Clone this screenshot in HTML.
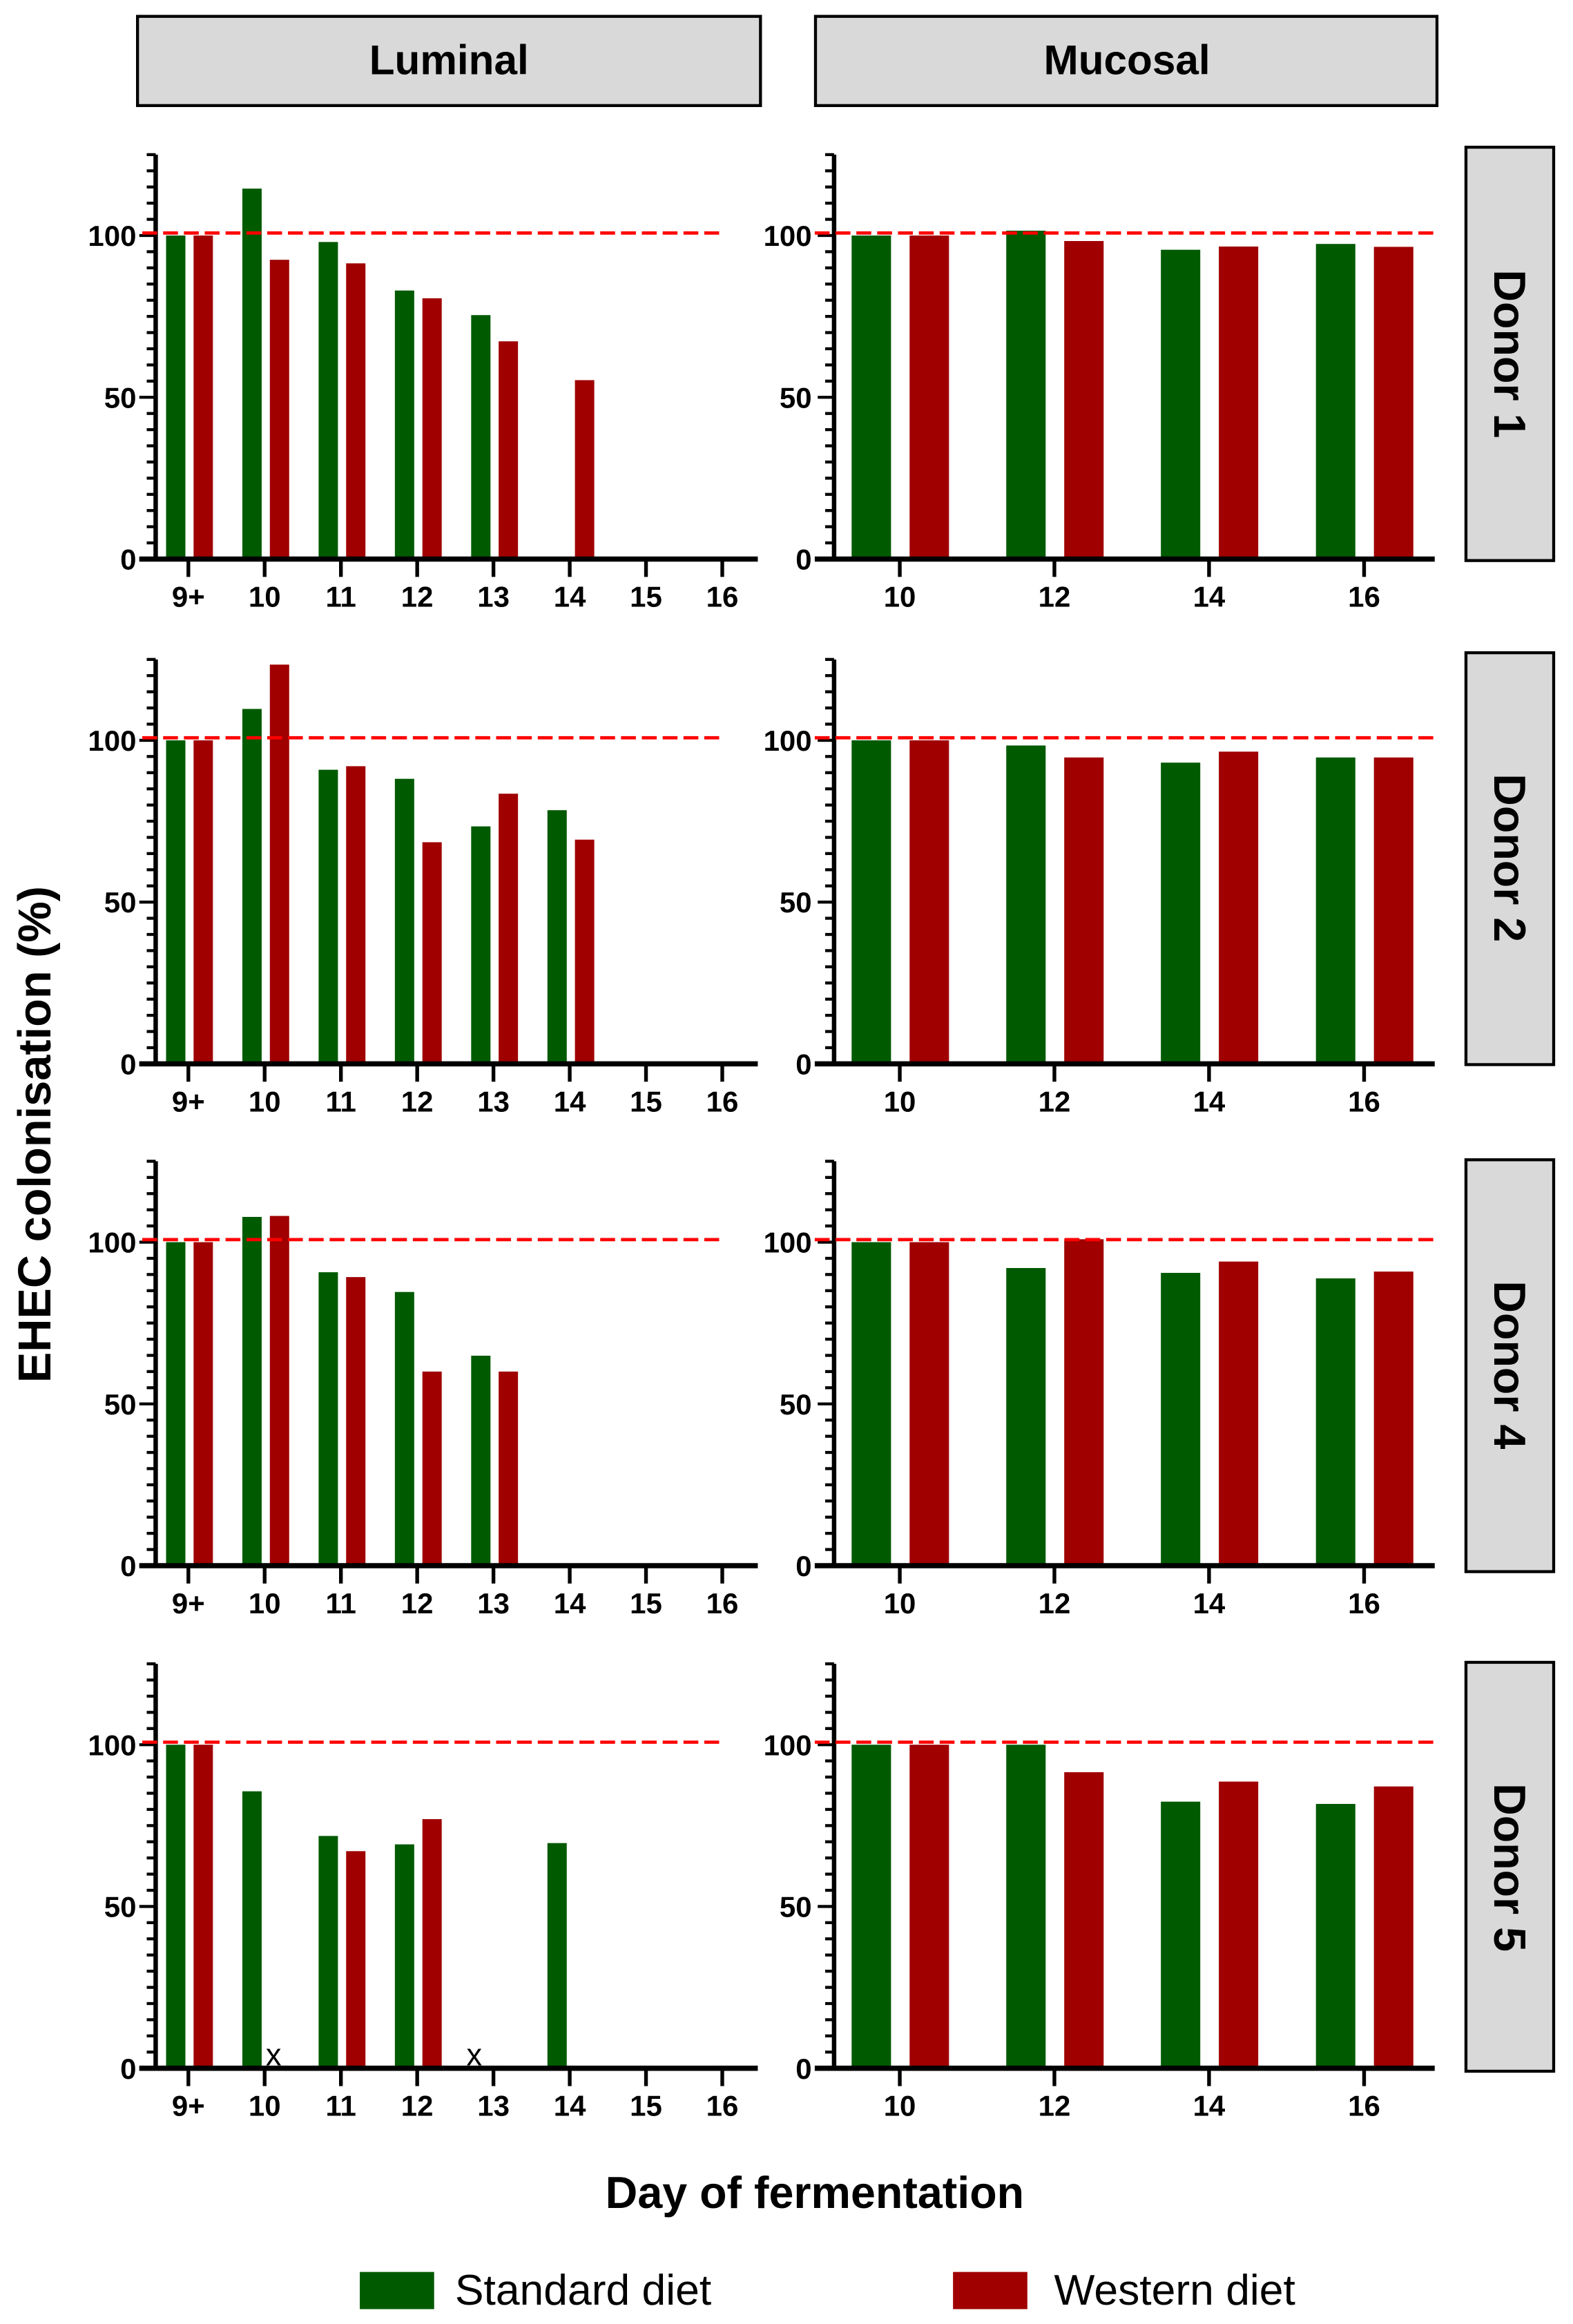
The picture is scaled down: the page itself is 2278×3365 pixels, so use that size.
<!DOCTYPE html>
<html><head><meta charset="utf-8"><style>
html,body{margin:0;padding:0;background:#fff;}
svg{display:block;}
text{font-family:"Liberation Sans",Arial,sans-serif;}
.tl{font-size:19.5px;font-weight:bold;fill:#000;}
.g{fill:#005a00;}
.r{fill:#a00000;}
</style></head><body>
<svg width="2278" height="3365" viewBox="0 0 1058 1563" preserveAspectRatio="none" xmlns="http://www.w3.org/2000/svg">
<defs>
<g id="yt">
 <line x1="0" y1="1.5" x2="0" y2="-272" stroke="#000" stroke-width="3"/>
 <g stroke="#000" stroke-width="2">
  <line x1="-11" y1="0" x2="0" y2="0"/>
  <line x1="-6" y1="-10.88" x2="0" y2="-10.88"/><line x1="-6" y1="-21.76" x2="0" y2="-21.76"/>
  <line x1="-6" y1="-32.64" x2="0" y2="-32.64"/><line x1="-6" y1="-43.52" x2="0" y2="-43.52"/>
  <line x1="-6" y1="-54.4" x2="0" y2="-54.4"/><line x1="-6" y1="-65.28" x2="0" y2="-65.28"/>
  <line x1="-6" y1="-76.16" x2="0" y2="-76.16"/><line x1="-6" y1="-87.04" x2="0" y2="-87.04"/>
  <line x1="-6" y1="-97.92" x2="0" y2="-97.92"/>
  <line x1="-11" y1="-108.8" x2="0" y2="-108.8"/>
  <line x1="-6" y1="-119.68" x2="0" y2="-119.68"/><line x1="-6" y1="-130.56" x2="0" y2="-130.56"/>
  <line x1="-6" y1="-141.44" x2="0" y2="-141.44"/><line x1="-6" y1="-152.32" x2="0" y2="-152.32"/>
  <line x1="-6" y1="-163.2" x2="0" y2="-163.2"/><line x1="-6" y1="-174.08" x2="0" y2="-174.08"/>
  <line x1="-6" y1="-184.96" x2="0" y2="-184.96"/><line x1="-6" y1="-195.84" x2="0" y2="-195.84"/>
  <line x1="-6" y1="-206.72" x2="0" y2="-206.72"/>
  <line x1="-11" y1="-217.6" x2="0" y2="-217.6"/>
  <line x1="-6" y1="-228.48" x2="0" y2="-228.48"/><line x1="-6" y1="-239.36" x2="0" y2="-239.36"/>
  <line x1="-6" y1="-250.24" x2="0" y2="-250.24"/><line x1="-6" y1="-261.12" x2="0" y2="-261.12"/>
  <line x1="-6" y1="-272" x2="0" y2="-272"/>
 </g>
</g>
<g id="lax">
 <use href="#yt"/>
 <line x1="-11" y1="0" x2="405" y2="0" stroke="#000" stroke-width="3.5"/>
 <g stroke="#000" stroke-width="2.5">
  <line x1="22" y1="0" x2="22" y2="12"/><line x1="73.3" y1="0" x2="73.3" y2="12"/>
  <line x1="124.6" y1="0" x2="124.6" y2="12"/><line x1="175.9" y1="0" x2="175.9" y2="12"/>
  <line x1="227.2" y1="0" x2="227.2" y2="12"/><line x1="278.5" y1="0" x2="278.5" y2="12"/>
  <line x1="329.8" y1="0" x2="329.8" y2="12"/><line x1="381.1" y1="0" x2="381.1" y2="12"/>
 </g>
 <line x1="-9" y1="-219.3" x2="383" y2="-219.3" stroke="#ff0000" stroke-width="2.2" stroke-dasharray="10,4"/>
 <g class="tl" text-anchor="end">
  <text x="-13" y="7">0</text><text x="-13" y="-101.8">50</text><text x="-13" y="-210.6">100</text>
 </g>
 <g class="tl" text-anchor="middle">
  <text x="22" y="32">9+</text><text x="73.3" y="32">10</text><text x="124.6" y="32">11</text>
  <text x="175.9" y="32">12</text><text x="227.2" y="32">13</text><text x="278.5" y="32">14</text>
  <text x="329.8" y="32">15</text><text x="381.1" y="32">16</text>
 </g>
</g>
<g id="max">
 <use href="#yt"/>
 <line x1="-13" y1="0" x2="404" y2="0" stroke="#000" stroke-width="3.5"/>
 <g stroke="#000" stroke-width="2.5">
  <line x1="44.2" y1="0" x2="44.2" y2="12"/><line x1="148.2" y1="0" x2="148.2" y2="12"/>
  <line x1="252.2" y1="0" x2="252.2" y2="12"/><line x1="356.5" y1="0" x2="356.5" y2="12"/>
 </g>
 <line x1="-13" y1="-219.3" x2="405" y2="-219.3" stroke="#ff0000" stroke-width="2.2" stroke-dasharray="10,4"/>
 <g class="tl" text-anchor="end">
  <text x="-15" y="7">0</text><text x="-15" y="-101.8">50</text><text x="-15" y="-210.6">100</text>
 </g>
 <g class="tl" text-anchor="middle">
  <text x="44.2" y="32">10</text><text x="148.2" y="32">12</text>
  <text x="252.2" y="32">14</text><text x="356.5" y="32">16</text>
 </g>
</g>
</defs>

<!-- headers -->
<rect x="92.5" y="11" width="419" height="60" fill="#d9d9d9" stroke="#000" stroke-width="2"/>
<text x="302" y="50" text-anchor="middle" font-size="28" font-weight="bold">Luminal</text>
<rect x="548.5" y="11" width="418" height="60" fill="#d9d9d9" stroke="#000" stroke-width="2"/>
<text x="758" y="50" text-anchor="middle" font-size="28" font-weight="bold">Mucosal</text>

<!-- donor boxes -->
<rect x="986" y="99" width="59" height="278" fill="#d9d9d9" stroke="#000" stroke-width="2"/>
<text transform="translate(1016,238) rotate(90)" text-anchor="middle" dy="11" font-size="30" font-weight="bold">Donor 1</text>
<rect x="986" y="439" width="59" height="277" fill="#d9d9d9" stroke="#000" stroke-width="2"/>
<text transform="translate(1016,577) rotate(90)" text-anchor="middle" dy="11" font-size="30" font-weight="bold">Donor 2</text>
<rect x="986" y="780" width="59" height="277" fill="#d9d9d9" stroke="#000" stroke-width="2"/>
<text transform="translate(1016,918) rotate(90)" text-anchor="middle" dy="11" font-size="30" font-weight="bold">Donor 4</text>
<rect x="986" y="1118" width="59" height="275" fill="#d9d9d9" stroke="#000" stroke-width="2"/>
<text transform="translate(1016,1256) rotate(90)" text-anchor="middle" dy="11" font-size="30" font-weight="bold">Donor 5</text>

<!-- Row 1 -->
<g transform="translate(104.7,376) scale(1,-2.176)">
 <rect class="g" x="7" y="0" width="13" height="100"/><rect class="r" x="25.5" y="0" width="13" height="100"/>
 <rect class="g" x="58.3" y="0" width="13" height="114.5"/><rect class="r" x="76.8" y="0" width="13" height="92.5"/>
 <rect class="g" x="109.6" y="0" width="13" height="98"/><rect class="r" x="128.1" y="0" width="13" height="91.4"/>
 <rect class="g" x="160.9" y="0" width="13" height="83"/><rect class="r" x="179.4" y="0" width="13" height="80.6"/>
 <rect class="g" x="212.2" y="0" width="13" height="75.4"/><rect class="r" x="230.7" y="0" width="13" height="67.3"/>
 <rect class="r" x="282" y="0" width="13" height="55.3"/>
</g>
<use href="#lax" transform="translate(104.7,376)"/>
<g transform="translate(561,376) scale(1,-2.176)">
 <rect class="g" x="11.8" y="0" width="26.5" height="100"/><rect class="r" x="50.8" y="0" width="26.5" height="100"/>
 <rect class="g" x="115.8" y="0" width="26.5" height="101.5"/><rect class="r" x="154.8" y="0" width="26.5" height="98.3"/>
 <rect class="g" x="219.8" y="0" width="26.5" height="95.6"/><rect class="r" x="258.8" y="0" width="26.5" height="96.6"/>
 <rect class="g" x="324.1" y="0" width="26.5" height="97.4"/><rect class="r" x="363.1" y="0" width="26.5" height="96.5"/>
</g>
<use href="#max" transform="translate(561,376)"/>

<!-- Row 2 -->
<g transform="translate(104.7,715.5) scale(1,-2.176)">
 <rect class="g" x="7" y="0" width="13" height="100"/><rect class="r" x="25.5" y="0" width="13" height="100"/>
 <rect class="g" x="58.3" y="0" width="13" height="109.7"/><rect class="r" x="76.8" y="0" width="13" height="123.4"/>
 <rect class="g" x="109.6" y="0" width="13" height="90.9"/><rect class="r" x="128.1" y="0" width="13" height="92"/>
 <rect class="g" x="160.9" y="0" width="13" height="88.1"/><rect class="r" x="179.4" y="0" width="13" height="68.5"/>
 <rect class="g" x="212.2" y="0" width="13" height="73.4"/><rect class="r" x="230.7" y="0" width="13" height="83.5"/>
 <rect class="g" x="263.5" y="0" width="13" height="78.4"/><rect class="r" x="282" y="0" width="13" height="69.3"/>
</g>
<use href="#lax" transform="translate(104.7,715.5)"/>
<g transform="translate(561,715.5) scale(1,-2.176)">
 <rect class="g" x="11.8" y="0" width="26.5" height="100"/><rect class="r" x="50.8" y="0" width="26.5" height="100"/>
 <rect class="g" x="115.8" y="0" width="26.5" height="98.4"/><rect class="r" x="154.8" y="0" width="26.5" height="94.7"/>
 <rect class="g" x="219.8" y="0" width="26.5" height="93.1"/><rect class="r" x="258.8" y="0" width="26.5" height="96.5"/>
 <rect class="g" x="324.1" y="0" width="26.5" height="94.7"/><rect class="r" x="363.1" y="0" width="26.5" height="94.7"/>
</g>
<use href="#max" transform="translate(561,715.5)"/>

<!-- Row 3 -->
<g transform="translate(104.7,1053) scale(1,-2.176)">
 <rect class="g" x="7" y="0" width="13" height="100"/><rect class="r" x="25.5" y="0" width="13" height="100"/>
 <rect class="g" x="58.3" y="0" width="13" height="107.8"/><rect class="r" x="76.8" y="0" width="13" height="108.1"/>
 <rect class="g" x="109.6" y="0" width="13" height="90.7"/><rect class="r" x="128.1" y="0" width="13" height="89.2"/>
 <rect class="g" x="160.9" y="0" width="13" height="84.6"/><rect class="r" x="179.4" y="0" width="13" height="60"/>
 <rect class="g" x="212.2" y="0" width="13" height="64.9"/><rect class="r" x="230.7" y="0" width="13" height="60"/>
</g>
<use href="#lax" transform="translate(104.7,1053)"/>
<g transform="translate(561,1053) scale(1,-2.176)">
 <rect class="g" x="11.8" y="0" width="26.5" height="100"/><rect class="r" x="50.8" y="0" width="26.5" height="100"/>
 <rect class="g" x="115.8" y="0" width="26.5" height="92"/><rect class="r" x="154.8" y="0" width="26.5" height="100.9"/>
 <rect class="g" x="219.8" y="0" width="26.5" height="90.5"/><rect class="r" x="258.8" y="0" width="26.5" height="94"/>
 <rect class="g" x="324.1" y="0" width="26.5" height="88.8"/><rect class="r" x="363.1" y="0" width="26.5" height="90.9"/>
</g>
<use href="#max" transform="translate(561,1053)"/>

<!-- Row 4 -->
<g transform="translate(104.7,1391) scale(1,-2.176)">
 <rect class="g" x="7" y="0" width="13" height="100"/><rect class="r" x="25.5" y="0" width="13" height="100"/>
 <rect class="g" x="58.3" y="0" width="13" height="85.6"/>
 <rect class="g" x="109.6" y="0" width="13" height="71.8"/><rect class="r" x="128.1" y="0" width="13" height="67.1"/>
 <rect class="g" x="160.9" y="0" width="13" height="69.2"/><rect class="r" x="179.4" y="0" width="13" height="77"/>
 <rect class="g" x="263.5" y="0" width="13" height="69.6"/>
</g>
<use href="#lax" transform="translate(104.7,1391)"/>
<text x="184" y="1389" text-anchor="middle" font-size="21">x</text>
<text x="319" y="1389" text-anchor="middle" font-size="21">x</text>
<g transform="translate(561,1391) scale(1,-2.176)">
 <rect class="g" x="11.8" y="0" width="26.5" height="100"/><rect class="r" x="50.8" y="0" width="26.5" height="100"/>
 <rect class="g" x="115.8" y="0" width="26.5" height="100"/><rect class="r" x="154.8" y="0" width="26.5" height="91.5"/>
 <rect class="g" x="219.8" y="0" width="26.5" height="82.4"/><rect class="r" x="258.8" y="0" width="26.5" height="88.6"/>
 <rect class="g" x="324.1" y="0" width="26.5" height="81.7"/><rect class="r" x="363.1" y="0" width="26.5" height="87.1"/>
</g>
<use href="#max" transform="translate(561,1391)"/>

<!-- axis titles -->
<text transform="translate(34,763) rotate(-90)" text-anchor="middle" font-size="31" font-weight="bold">EHEC colonisation (%)</text>
<text x="548" y="1485" text-anchor="middle" font-size="30" font-weight="bold">Day of fermentation</text>

<!-- legend -->
<rect x="242" y="1528" width="50" height="25" fill="#005a00"/>
<text x="306" y="1550" font-size="29">Standard diet</text>
<rect x="641" y="1528" width="50" height="25" fill="#a00000"/>
<text x="709" y="1550" font-size="29">Western diet</text>
</svg>
</body></html>
